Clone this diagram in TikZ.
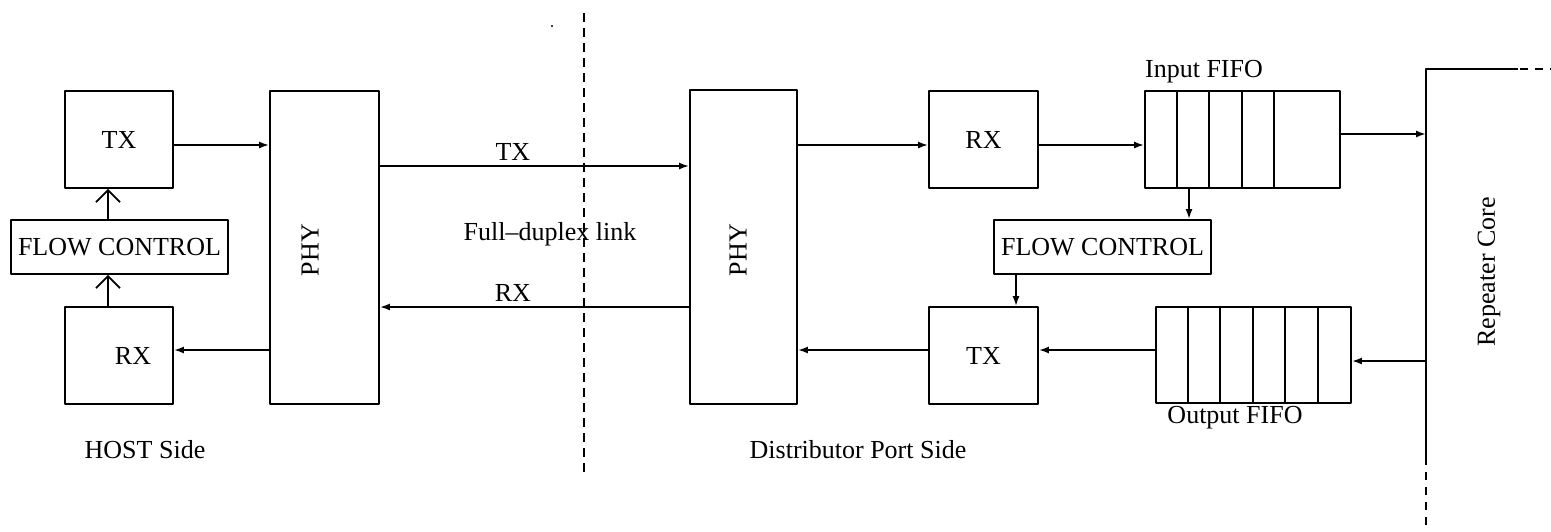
\documentclass[tikz,border=0pt]{standalone}
\usepackage{fontspec}
\setmainfont{Liberation Serif}
\usetikzlibrary{arrows.meta}
\tikzset{
  blk/.style={draw,line width=0.9pt,inner sep=0pt},
  lnk/.style={line width=0.9pt},
  fb/.style={line width=0.9pt,-{Straight Barb[length=6pt,width=12pt,line width=0.9pt]}},
}
\begin{document}
\begin{tikzpicture}[x=0.5pt,y=-0.5pt,>={Latex[length=5pt,width=3.5pt]},line join=bevel,
  font=\fontsize{13}{15}\selectfont]
\useasboundingbox (0,0) rectangle (1551,531);
%%
\node (htx) at (119,139.5) [blk,minimum width=54pt,minimum height=48.5pt] {TX};
  \node (hfc) at (119.5,247) [blk,minimum width=108.5pt,minimum height=27pt] {FLOW CONTROL};
  \node (hrx) at (119,355.5) [blk,minimum width=54pt,minimum height=48.5pt] {\hspace{14pt}RX};
  \node (hphy) at (324.5,247.5) [blk,minimum width=54.5pt,minimum height=156.5pt] {};
  \node (hphylbl) at (310,250) [rotate=90] {PHY};
  \node (dphy) at (743.5,247) [blk,minimum width=53.5pt,minimum height=157pt] {};
  \node (dphylbl) at (738,250) [rotate=90] {PHY};
  \node (drx) at (983.5,139.5) [blk,minimum width=54.5pt,minimum height=48.5pt] {RX};
  \node (dfc) at (1102.5,247) [blk,minimum width=108.5pt,minimum height=27pt] {FLOW CONTROL};
  \node (dtx) at (983.5,355.5) [blk,minimum width=54.5pt,minimum height=48.5pt] {TX};
  \node (infifo) at (1242.5,139.5) [blk,minimum width=97.5pt,minimum height=48.5pt] {};
  \node (outfifo) at (1253.5,355) [blk,minimum width=97.5pt,minimum height=48pt] {};
  \node (inlbl) at (1204,72) {Input FIFO};
  \node (outlbl) at (1235,418) [fill=white,inner sep=0pt] {Output FIFO};
  \node (corelbl) at (1489,272) [rotate=90] {Repeater Core};
  \node (hostlbl) at (145,450) {HOST Side};
  \node (distlbl) at (858,450) {Distributor Port Side};
  \node (duplbl) at (550,234) {Full--duplex link};
  \coordinate (coretop) at (1426,69);
  \coordinate (corein) at (1426,134);
  \coordinate (coreout) at (1426,361);
  \coordinate (corebot) at (1426,465);
%% fifo cells
\foreach \k in {1,...,4}
  \draw [lnk] ([xshift=\k*16.25pt]infifo.north west) -- ([xshift=\k*16.25pt]infifo.south west);
\foreach \k in {1,...,5}
  \draw [lnk] ([xshift=\k*16.25pt]outfifo.north west) -- ([xshift=\k*16.25pt]outfifo.south west);
%% repeater core
\draw [lnk] (1551,69) -- (coretop) -- (corebot);
  \draw [lnk,white] (1518,69) -- (1551,69);
  \draw [lnk,dash pattern=on 4pt off 3.5pt] (1520,69) -- (1551,69);
  \draw [lnk,dash pattern=on 4pt off 3.5pt] ([yshift=-3.5pt]corebot) -- (1426,531);
%% divider
\draw [lnk,dash pattern=on 4.5pt off 3pt] (584,13) -- (584,473);
  \fill (552,26) circle (0.6pt);
%% links
\draw [lnk,->] (htx.east |- 0,145) -- (hphy.west |- 0,145);
  \draw [lnk,->] (hphy.west |- 0,350) -- (hrx.east |- 0,350);
  \draw [fb] (hrx.north -| 108,0) -- (hfc.south -| 108,0);
  \draw [fb] (hfc.north -| 108,0) -- (htx.south -| 108,0);
  \draw [lnk,->] (hphy.east |- 0,166) -- node [above=-1pt,pos=0.43] {TX} (dphy.west |- 0,166);
  \draw [lnk,->] (dphy.west |- 0,307) -- node [above=-1pt,pos=0.57] {RX} (hphy.east |- 0,307);
  \draw [lnk,->] (dphy.east |- 0,145) -- (drx.west |- 0,145);
  \draw [lnk,->] (drx.east |- 0,145) -- (infifo.west |- 0,145);
  \draw [lnk,->] (infifo.east |- corein) -- (corein);
  \draw [lnk,->] (infifo.south -| 1189,0) -- (dfc.north -| 1189,0);
  \draw [lnk,->] (dfc.south -| 1016,0) -- (dtx.north -| 1016,0);
  \draw [lnk,->] (coreout) -- (outfifo.east |- coreout);
  \draw [lnk,->] (outfifo.west |- 0,350) -- (dtx.east |- 0,350);
  \draw [lnk,->] (dtx.west |- 0,350) -- (dphy.east |- 0,350);
%
\end{tikzpicture}
\end{document}
